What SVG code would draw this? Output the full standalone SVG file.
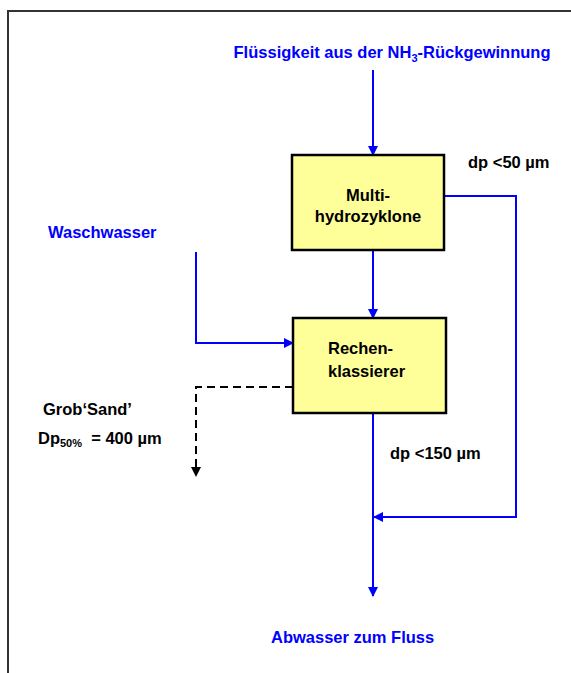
<svg xmlns="http://www.w3.org/2000/svg" width="571" height="673" viewBox="0 0 571 673">
<style>
text{font-family:"Liberation Sans",Arial,sans-serif;font-weight:bold;font-size:16.5px}
.b{fill:#0000ff}
.k{fill:#000}
.box{fill:#ffff99;stroke:#000;stroke-width:2.5}
.flow{fill:none;stroke:#0000ff;stroke-width:2}
.dash{fill:none;stroke:#000;stroke-width:2;stroke-dasharray:8,5}
</style>
<defs>
<marker id="ab" markerWidth="10" markerHeight="10" refX="9" refY="5" orient="auto" markerUnits="userSpaceOnUse"><path d="M0,0 L10,5 L0,10 z" fill="#0000ff"/></marker>
</defs>
<rect x="0" y="0" width="571" height="673" fill="#fff"/>
<path d="M8,673 V11 H571" fill="none" stroke="#333" stroke-width="2"/>
<g id="connectors">
<path class="flow" d="M373,70 V155" marker-end="url(#ab)"/>
<path class="flow" d="M373,250 V318" marker-end="url(#ab)"/>
<path class="flow" d="M444,196 H516 V517 H374" marker-end="url(#ab)"/>
<path class="flow" d="M196,252 V343 H293" marker-end="url(#ab)"/>
<path class="flow" d="M373,413 V596" marker-end="url(#ab)"/>
<path class="dash" d="M293,387 H196 V468"/>
<path d="M191,467 L201,467 L196,477 z" fill="#000"/>
</g>
<g id="multihydrozyklone">
<rect class="box" x="292" y="155" width="152" height="95"/>
<text class="k" x="368" y="201" text-anchor="middle">Multi-</text>
<text class="k" x="368" y="222" text-anchor="middle">hydrozyklone</text>
</g>
<g id="rechenklassierer">
<rect class="box" x="293" y="318" width="153" height="95"/>
<text class="k" x="328" y="354">Rechen-</text>
<text class="k" x="328" y="377">klassierer</text>
</g>
<g id="labels">
<text class="b" x="392" y="58" text-anchor="middle">Flüssigkeit aus der NH<tspan font-size="11" dy="4">3</tspan><tspan dy="-4">-Rückgewinnung</tspan></text>
<text class="k" x="468" y="168">dp &lt;50 µm</text>
<text class="b" x="48" y="238">Waschwasser</text>
<text class="k" x="43" y="415">Grob‘Sand’</text>
<text class="k" x="38" y="444">Dp<tspan font-size="11" dy="3">50%</tspan><tspan dy="-3" xml:space="preserve">  = 400 µm</tspan></text>
<text class="k" x="390" y="459">dp &lt;150 µm</text>
<text class="b" x="271" y="643">Abwasser zum Fluss</text>
</g>
</svg>
